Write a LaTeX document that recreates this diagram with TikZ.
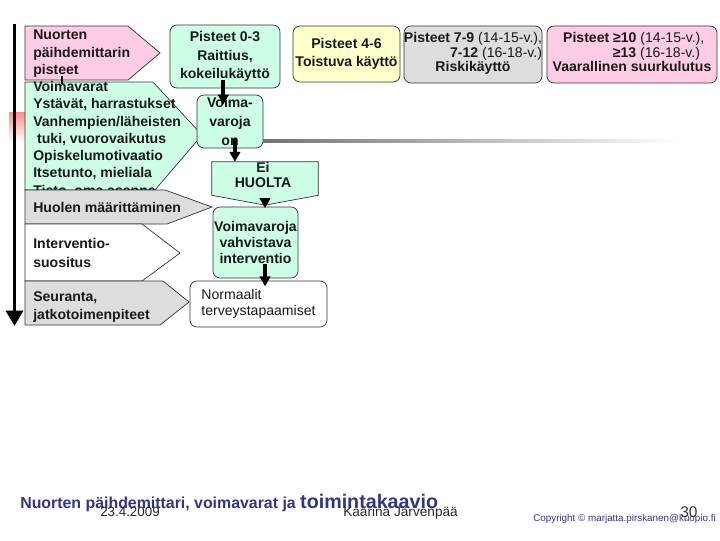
\documentclass[tikz,border=0pt]{standalone}
\usepackage{fontspec}
\setmainfont{Liberation Sans}
\usetikzlibrary{arrows.meta}

\definecolor{mint}{HTML}{CCFFE6}
\definecolor{rosa}{HTML}{FFCCE6}
\definecolor{keltainen}{HTML}{FFFFCC}
\definecolor{harmaa}{HTML}{DDDDDD}
\definecolor{tummasin}{HTML}{333388}

\begin{document}
\begin{tikzpicture}[
  x=0.025cm, y=-0.025cm,
  stage/.style={draw=black!80, line width=0.5pt},
  stxt/.style={inner sep=0pt, anchor=north west, align=left, text=black!90,
    font=\fontsize{10}{12.3}\selectfont\bfseries},
  sbox/.style={draw=black!80, line width=0.5pt, rounded corners=5pt, inner sep=0pt,
    align=center, text=black!90, font=\fontsize{10}{13}\selectfont\bfseries},
  flow/.style={line width=2.8pt, -{Triangle[width=7.5pt,length=7pt]}},
  foot/.style={inner sep=0pt, anchor=base west}
]
  \useasboundingbox (0,0) rectangle (720,540);

  % --- aikajana vasemmalla ---
  \shade[top color=red!45, bottom color=white] (9,112) rectangle (26,142);
  \coordinate (aika1) at (14.5,24);
  \coordinate (aika2) at (14.5,326);
  \draw[line width=2.8pt, -{Triangle[width=12pt,length=11pt]}] (aika1) -- (aika2);

  % --- vaiheet (nuolilaatikot) ---
  \draw[stage, fill=mint] (25,82) -- (153,82) -- (202,135) -- (155,190) -- (25,190) -- cycle;
  \node[stxt] (voimavarat) at (33,81) {Voimavarat\\Ystävät, harrastukset\\Vanhempien/läheisten\\
    \ tuki, vuorovaikutus\\Opiskelumotivaatio\\Itsetunto, mieliala\\Tieto, oma asenne};

  \draw[stage, fill=rosa] (25,26) -- (128,26) -- (160,53) -- (128,80) -- (25,80) -- cycle;
  \node[stxt] (mittari) at (33,30) {Nuorten\\päihdemittarin\\pisteet};
  \coordinate (liitos1) at (62,76);
  \coordinate (liitos2) at (62,84);
  \draw[line width=1pt] (liitos1) -- (liitos2);

  \draw[stage, fill=harmaa] (25,190) -- (165,190) -- (212,207) -- (167,224) -- (25,224) -- cycle;
  \node[stxt, anchor=west] (huoli) at (33,207) {Huolen määrittäminen};

  \draw[stage, fill=white] (25,224) -- (142,224) -- (180,253) -- (142,281) -- (25,281) -- cycle;
  \node[stxt, font=\fontsize{10}{13.5}\selectfont\bfseries] (suositus) at (33,238) {Interventio-\\suositus};

  \draw[stage, fill=harmaa] (25,281) -- (163,281) -- (189,302) -- (160,325) -- (25,325) -- cycle;
  \node[stxt, font=\fontsize{10}{13}\selectfont\bfseries] (seuranta) at (33,291) {Seuranta,\\jatkotoimenpiteet};

  % --- pistelaatikot ---
  \node[sbox, fill=mint, minimum width=2.75cm, minimum height=1.575cm] (p03) at (225,56.5)
    {Pisteet 0-3\\Raittius,\\kokeilukäyttö};
  \node[sbox, fill=keltainen, minimum width=2.675cm, minimum height=1.4cm] (p46) at (346.5,54)
    {Pisteet 4-6\\Toistuva käyttö};
  \node[sbox, fill=harmaa, minimum width=3.45cm, minimum height=1.425cm,
    font=\fontsize{10}{10.3}\selectfont\bfseries] (p79) at (473,54.5)
    {\begin{tabular}{@{}r@{}}Pisteet 7-9 \mdseries(14-15-v.),\\
      7-12 \mdseries(16-18-v.)\\ \multicolumn{1}{@{}c@{}}{Riskikäyttö}\end{tabular}};
  \node[sbox, fill=rosa, minimum width=4.25cm, minimum height=1.425cm,
    font=\fontsize{10}{10.3}\selectfont\bfseries] (p10) at (632,54.5)
    {\begin{tabular}{@{}r@{}}Pisteet ≥10 \mdseries(14-15-v.),\hspace*{5pt}\\
      ≥13 \mdseries(16-18-v.)\hspace*{8pt}\\ \multicolumn{1}{@{}c@{}}{Vaarallinen suurkulutus}\end{tabular}};

  % --- toimintakaavio ---
  \node[sbox, fill=mint, minimum width=1.65cm, minimum height=1.325cm,
    font=\fontsize{10}{13.5}\selectfont\bfseries] (voima) at (230,121.5) {Voima-\\varoja\\on};
  \shade[left color=black!55, right color=white] (263,139.5) rectangle (680,142.5);

  \path node[minimum width=2.65cm, minimum height=0.825cm, inner sep=0pt] (eih) at (265,178.5) {};
  \draw[stage, fill=mint] (eih.north west) -- (eih.north east) -- (eih.south east)
    -- ([yshift=-7pt]eih.south) -- (eih.south west) -- cycle;
  \node[sbox, draw=none, font=\fontsize{10}{10.6}\selectfont\bfseries] (eihtxt) at (263,175) {Ei\\HUOLTA};

  \node[sbox, fill=mint, minimum width=2.125cm, minimum height=1.775cm,
    font=\fontsize{10}{11.3}\selectfont\bfseries] (vvi) at (255.5,242.5)
    {Voimavaroja\\vahvistava\\interventio};
  \node[sbox, fill=white, align=left, minimum width=3.425cm, minimum height=1.15cm,
    font=\fontsize{10}{11.3}\selectfont] (norm) at (258.5,304) {Normaalit\\terveystapaamiset};

  % nuolet
  \draw[flow] ([xshift=-1.2pt, yshift=5.7pt]p03.south) -- ([xshift=-1.2pt, yshift=-7pt]p03.south |- voima.north);
  \draw[flow] ([xshift=3.5pt, yshift=7pt]voima.south) -- ([xshift=3.5pt]voima.south |- eih.north);
  \draw[flow] ([yshift=-7pt]eih.south) -- ([yshift=-1pt]eih.south |- vvi.north);
  \draw[flow] ([yshift=10pt]eih.south |- vvi.south) -- ([yshift=-4pt]eih.south |- norm.north);

  % --- alatunniste ---
  \node[foot, text=tummasin, font=\fontsize{11.3}{13}\selectfont\bfseries] (otsikko) at (20,508)
    {Nuorten päihdemittari, voimavarat ja {\fontsize{14}{16}\selectfont toimintakaavio}};
  \node[foot, text=black!85, font=\fontsize{9.5}{11}\selectfont] (pvm) at (100,516) {23.4.2009};
  \node[foot, text=black!85, font=\fontsize{9.7}{11}\selectfont] (tekija) at (343,516) {Kaarina Järvenpää};
  \node[foot, text=tummasin, font=\fontsize{7}{8}\selectfont] (copy) at (533,521)
    {Copyright © marjatta.pirskanen@kuopio.fi};
  \node[foot, text=black!80, font=\fontsize{11}{12}\selectfont] (sivu) at (680,517) {30};
\end{tikzpicture}
\end{document}
